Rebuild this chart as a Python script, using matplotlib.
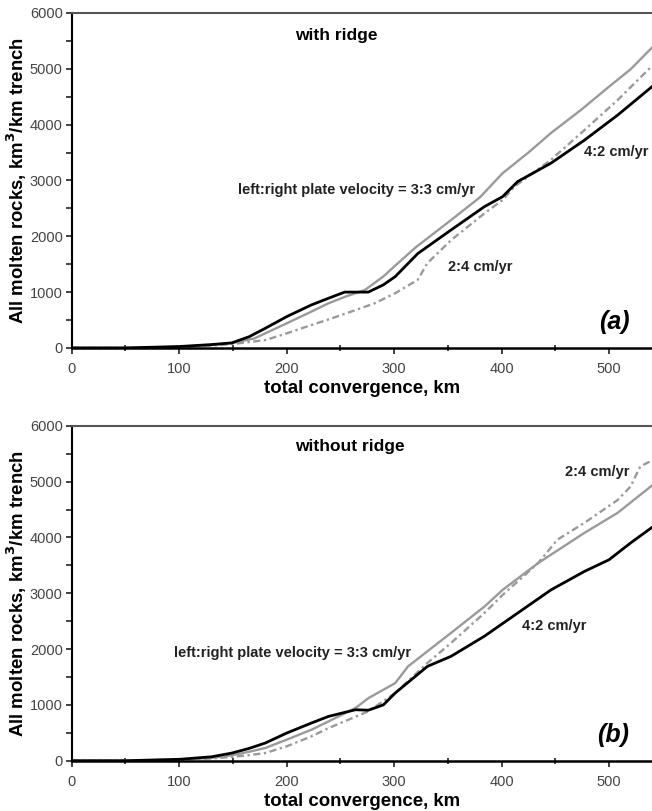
import matplotlib.pyplot as plt
from matplotlib.ticker import MultipleLocator

plt.rcParams['font.family'] = ['Liberation Sans', 'DejaVu Sans']

# panel (a): with ridge
a_33_x = [0, 50, 100, 130, 150, 170, 180, 200, 223, 239, 255, 273, 290, 300, 320, 353, 380, 401, 425, 446, 475, 500, 520, 540]
a_33_y = [0, 0, 20, 50, 90, 170, 260, 440, 650, 800, 920, 1040, 1280, 1456, 1800, 2290, 2700, 3130, 3500, 3850, 4280, 4680, 4990, 5380]
a_42_x = [0, 50, 100, 130, 149, 165, 180, 200, 223, 239, 254, 265, 276, 290, 301, 322, 353, 384, 401, 415, 446, 477, 508, 540]
a_42_y = [0, 0, 25, 60, 90, 200, 350, 560, 770, 890, 1000, 1000, 1000, 1130, 1277, 1690, 2113, 2530, 2710, 2980, 3310, 3720, 4170, 4680]
a_24_x = [0, 50, 100, 130, 150, 180, 200, 223, 239, 260, 282, 301, 322, 331, 353, 384, 401, 412, 446, 477, 508, 540]
a_24_y = [0, 0, 15, 40, 70, 140, 260, 410, 510, 650, 800, 980, 1220, 1520, 1930, 2410, 2650, 2890, 3370, 3900, 4440, 5050]

# panel (b): without ridge
b_33_x = [0, 50, 100, 130, 150, 165, 180, 200, 223, 239, 264, 276, 301, 313, 353, 384, 401, 434, 477, 508, 540]
b_33_y = [0, 0, 20, 50, 100, 160, 227, 376, 555, 704, 943, 1120, 1390, 1690, 2290, 2760, 3060, 3540, 4080, 4440, 4930]
b_42_x = [0, 50, 100, 130, 149, 165, 180, 200, 223, 239, 264, 276, 290, 301, 331, 353, 384, 415, 446, 477, 500, 520, 540]
b_42_y = [0, 0, 25, 70, 137, 220, 316, 495, 675, 794, 913, 905, 1000, 1212, 1690, 1870, 2230, 2645, 3060, 3390, 3600, 3900, 4180]
b_24_x = [0, 50, 100, 130, 150, 165, 180, 200, 223, 239, 276, 301, 331, 353, 384, 401, 434, 452, 477, 508, 520, 529, 540]
b_24_y = [0, 0, 15, 40, 70, 100, 137, 257, 436, 585, 884, 1212, 1750, 2110, 2645, 2970, 3540, 3960, 4260, 4670, 4910, 5270, 5380]

grey = '#9a9a9a'
dashdot = (0, (3, 1.5, 1, 1.5))

fig = plt.figure(figsize=(6.52, 8.11), dpi=100)
ax_a = fig.add_axes([0.110, 0.571, 0.890, 0.413])
ax_b = fig.add_axes([0.110, 0.062, 0.890, 0.413])

panels = [
    (ax_a, a_33_x, a_33_y, a_42_x, a_42_y, a_24_x, a_24_y),
    (ax_b, b_33_x, b_33_y, b_42_x, b_42_y, b_24_x, b_24_y),
]
for ax, x33, y33, x42, y42, x24, y24 in panels:
    ax.plot(x33, y33, color=grey, lw=1.7)
    ax.plot(x24, y24, color=grey, lw=1.7, ls=dashdot)
    ax.plot(x42, y42, color='black', lw=2.0)
    ax.set_xlim(0, 540)
    ax.set_ylim(0, 6000)
    ax.xaxis.set_major_locator(MultipleLocator(100))
    ax.xaxis.set_minor_locator(MultipleLocator(50))
    ax.yaxis.set_major_locator(MultipleLocator(1000))
    ax.yaxis.set_minor_locator(MultipleLocator(500))
    ax.tick_params(axis='both', which='both', direction='out', length=4, width=1.2,
                   labelsize=10.5, labelcolor='#444444', color='#222222')
    ax.tick_params(axis='y', which='major', pad=2.5)
    ax.tick_params(axis='x', which='major', pad=6)
    ax.tick_params(axis='x', which='minor', direction='inout', length=5)
    ax.spines['right'].set_visible(False)
    ax.spines['top'].set_color('#555555')
    ax.spines['top'].set_linewidth(1.5)
    ax.spines['bottom'].set_linewidth(1.8)
    ax.spines['left'].set_linewidth(1.5)
    ax.set_xlabel('total convergence, km', fontsize=13.4, fontweight='bold', labelpad=3)
    ax.set_ylabel('All molten rocks, km$^\\mathbf{3}$/km trench', fontsize=13.4,
                  fontweight='bold')
    ax.yaxis.set_label_coords(-0.074, 0.5)

txt = dict(fontsize=10.5, fontweight='bold', color='#222222')
ax_a.text(208, 5600, 'with ridge', fontsize=12.5, fontweight='bold', va='center')
ax_a.text(155, 2830, 'left:right plate velocity = 3:3 cm/yr', va='center', **txt)
ax_a.text(350, 1450, '2:4 cm/yr', va='center', **txt)
ax_a.text(477, 3510, '4:2 cm/yr', va='center', **txt)
ax_a.text(519, 470, '(a)', fontsize=18, fontweight='bold', style='italic', ha='right', va='center')

ax_b.text(208, 5620, 'without ridge', fontsize=12.5, fontweight='bold', va='center')
ax_b.text(95, 1934, 'left:right plate velocity = 3:3 cm/yr', va='center', **txt)
ax_b.text(459, 5180, '2:4 cm/yr', va='center', **txt)
ax_b.text(419, 2405, '4:2 cm/yr', va='center', **txt)
ax_b.text(519, 466, '(b)', fontsize=18, fontweight='bold', style='italic', ha='right', va='center')

fig.savefig('out.png', dpi=100)
